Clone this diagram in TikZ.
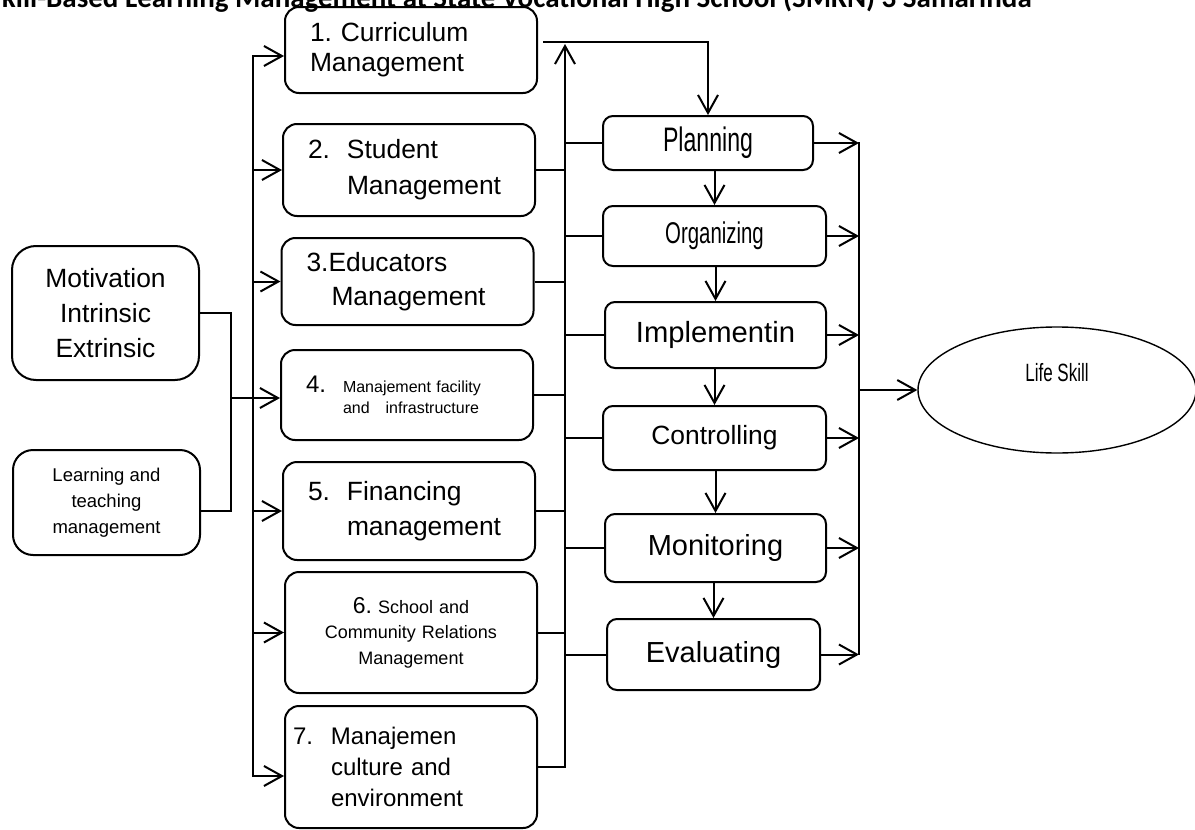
\documentclass[tikz,border=0pt]{standalone}
\usepackage{fontspec}
\setmainfont{Liberation Sans}
\newfontfamily\agency[FakeStretch=0.68]{Liberation Sans}
\newfontfamily\calib{Carlito}
\usetikzlibrary{arrows.meta,shapes.geometric}
\newcommand{\fsz}[2]{\fontsize{#1}{#2}\selectfont}
\newcommand{\numbox}[2]{\makebox[#1][l]{#2}}
\frenchspacing

\begin{document}
\begin{tikzpicture}[x=0.5pt,y=-0.5pt,line width=1pt,>={Straight Barb[length=9pt,width=10pt]},
    mbox/.style={draw,rounded corners=7pt,inner xsep=12.5pt,inner ysep=0pt,text width=101pt,align=left,font=\fsz{13.2}{15}},
    pbox/.style={draw,rounded corners=5pt,inner sep=0pt},
    sbox/.style={draw,align=center,inner sep=0pt,minimum width=93.5pt}]
\useasboundingbox (0,0) rectangle (1195,830);
\node[anchor=base west,inner sep=0pt,font=\calib\bfseries\fsz{14.5}{17}] (title) at (1,7) {kill-Based Learning Management at State Vocational High School (SMKN) 3 Samarinda};
\node[sbox,rounded corners=12pt,minimum height=67pt,font=\fsz{13.2}{17.5}] (mot) at (105.5,313) {Motivation\\Intrinsic\\Extrinsic};
\node[sbox,rounded corners=10pt,minimum height=52.5pt,font=\fsz{9.25}{13}] (learn) at (106.5,502.5) {Learning and\\teaching\\management};
\node[mbox,minimum height=43pt] (m1) at (411,50) {1. Curriculum\\Management};
\node[mbox,minimum height=46pt,font=\fsz{13.2}{18}] (m2) at (409,170) {\numbox{19.5pt}{2.}Student\\\hspace*{19.5pt}Management};
\node[mbox,minimum height=43.5pt,font=\fsz{13.2}{17}] (m3) at (407.5,281.5) {3.Educators\\\hspace*{12.5pt}Management};
\node[mbox,minimum height=45pt,font=\fsz{8}{10.5}] (m4) at (407,395) {\numbox{18.5pt}{\fsz{12}{10.5}4.}Manajement facility\\\hspace*{18.5pt}and\hspace{8pt}infrastructure};
\node[mbox,minimum height=49pt,font=\fsz{13.2}{17.5}] (m5) at (409,511) {\numbox{19.5pt}{5.}Financing\\\hspace*{19.5pt}management};
\node[mbox,minimum height=60.5pt,align=center,font=\fsz{9}{12.75}] (m6) at (411,632.5) {{\fsz{11.5}{12.75}6.} School and\\Community Relations\\Management};
\node[mbox,minimum height=61pt,inner xsep=4pt,text width=118pt,font=\fsz{12}{15.5}] (m7) at (411,767) {\numbox{19pt}{7.}Manajemen\\\hspace*{19pt}culture and\\\hspace*{19pt}environment};
\node[pbox,minimum width=105pt,minimum height=27pt,font=\agency\fsz{17}{20}] (plan) at (708,143) {Planning};
\node[pbox,minimum width=111.5pt,minimum height=30pt,font=\agency\fsz{15}{18}] (org) at (714.5,236) {Organizing};
\node[pbox,minimum width=110.5pt,minimum height=33pt,font=\fsz{14.6}{17}] (impl) at (715.5,335) {Implementin};
\node[pbox,minimum width=111.5pt,minimum height=32pt,font=\fsz{13.2}{16}] (ctrl) at (714.5,438) {Controlling};
\node[pbox,minimum width=110.5pt,minimum height=34pt,font=\fsz{14.5}{17}] (mon) at (715.5,548) {Monitoring};
\node[pbox,minimum width=106.5pt,minimum height=35.5pt,font=\fsz{14.5}{17}] (eval) at (713.5,654.5) {Evaluating};
\node[draw,ellipse,line width=0.7pt,minimum width=139pt,minimum height=63pt,inner sep=0pt,text depth=18pt,font=\agency\fsz{12.5}{15}] (life) at (1057,390) {Life Skill};
\coordinate (jn) at (231,398);
\coordinate (lbt) at (253,56);
\coordinate (lbb) at (253,776);
\coordinate (rbt) at (565,44);
\coordinate (ob) at (859,142);
\draw (mot.east) -| (jn) ([yshift=-4pt]learn.east) -| (jn);
\draw[->] (jn) -- (jn -| m4.west);
\draw[<->] (lbt -| m1.west) -- (lbt) -- (lbb) -- (lbb -| m7.west);
\foreach \b in {m2,m3,m5,m6} \draw[->] (lbt |- \b.west) -- (\b.west);
\foreach \b in {m2,m3,m4,m5,m6} \draw (\b.east) -- (rbt |- \b.east);
\draw[->] (m7.east) -| (rbt);
\draw[->] ([shift={(5,-8)}]m1.east) -| (plan.north);
\foreach \p in {plan,org,impl,ctrl,mon,eval} {\draw (rbt |- \p.west) -- (\p.west); \draw[->] (\p.east) -- (ob |- \p.east);}
\foreach \a/\b in {plan/org,org/impl,impl/ctrl,ctrl/mon,mon/eval} \draw[->] (\b.north |- \a.south) -- (\b.north);
\draw (ob) -- (ob |- eval.east);
\draw[->] (ob |- life.west) -- (life.west);
\end{tikzpicture}
\end{document}
